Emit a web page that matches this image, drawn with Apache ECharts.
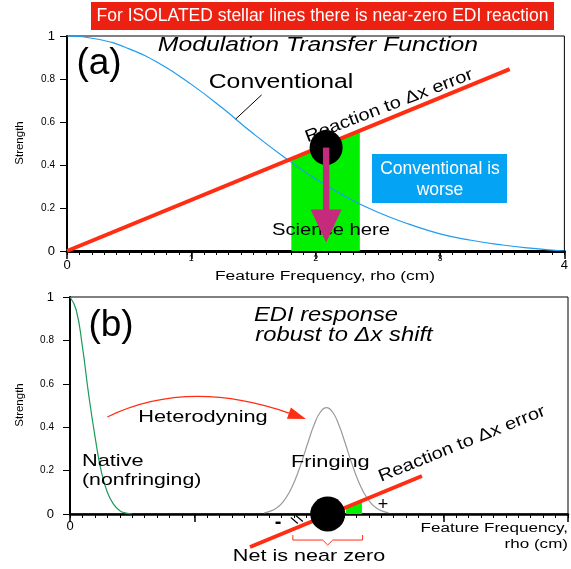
<!DOCTYPE html>
<html>
<head>
<meta charset="UTF-8">
<script src="https://cdn.jsdelivr.net/npm/echarts@6/dist/echarts.min.js"></script>
<style>
html,body{margin:0;padding:0;background:#fff;}
#main{width:571px;height:569px;}
</style>
</head>
<body>
<div id="main"></div>
<script>
/* ---- panel (a) : modulation transfer function ---- */
var freqA = [0, 0.25, 0.5, 0.75, 1, 1.25, 1.5, 1.75, 2, 2.25, 2.5, 2.75, 3, 3.25, 3.5, 3.75, 4];
var conventional = [1, 0.985, 0.94, 0.87, 0.775, 0.665, 0.545, 0.435, 0.335, 0.25, 0.18, 0.125, 0.08, 0.05, 0.028, 0.012, 0];
var reactionA = [[0, 0], [3.56, 0.846]];
var scienceBand = [[1.804, 0.429], [2.355, 0.56]];
var blobA = [2.084, 0.481];
var arrowTipA = [2.084, 0.04];
var calloutA = [[1.565, 0.726], [1.357, 0.614]];

/* ---- panel (b) : EDI response ---- */
var freqNative = [0, 0.05, 0.1, 0.15, 0.2, 0.25, 0.3, 0.35, 0.4, 0.45, 0.5];
var native = [1, 0.94, 0.77, 0.55, 0.36, 0.2, 0.1, 0.045, 0.015, 0.004, 0];
var freqFringe = [1.56, 1.61, 1.66, 1.71, 1.76, 1.81, 1.86, 1.91, 1.96, 2.01, 2.06, 2.11, 2.16, 2.21, 2.26, 2.31, 2.36, 2.41, 2.46, 2.51, 2.56];
var fringing = [0.005, 0.013, 0.028, 0.055, 0.098, 0.16, 0.239, 0.327, 0.41, 0.469, 0.49, 0.469, 0.41, 0.327, 0.239, 0.16, 0.098, 0.055, 0.028, 0.013, 0.005];
var reactionB = [[1.446, -0.152], [2.827, 0.175]];
var netBand = [[2.217, 0.031], [2.345, 0.061]];
var blobB = [2.07, 0];
var heteroArc = [[0.30, 0.447], [0.944, 0.627], [1.895, 0.438]];
var braceX = [1.79, 2.07, 2.35];
var braceY = [-0.097, -0.12, -0.143];
var hatchAt = [1.83, -0.03];

var FONT = '"Liberation Sans", Arial, sans-serif';

function zip(xs, ys) {
    var out = [];
    for (var i = 0; i < xs.length; i++) out.push([xs[i], ys[i]]);
    return out;
}

function yLabel(v) {
    if (v === 0 || v === 1) return '{big|' + v + '}';
    return '{small|' + (+v.toFixed(1)) + '}';
}
var labelRich = {
    big: {fontSize: 13, fontFamily: FONT, color: '#000'},
    small: {fontSize: 10, fontFamily: FONT, color: '#000'}
};

function txt(s, x, y, size, opts) {
    opts = opts || {};
    return {
        type: 'text', x: x, y: y, z: 5,
        rotation: opts.rot || 0,
        scaleX: opts.sx || 1,
        style: {
            text: s, fill: opts.color || '#000', fontSize: size, fontFamily: FONT,
            fontStyle: opts.italic ? 'italic' : 'normal',
            fontWeight: opts.bold ? 'bold' : 'normal',
            align: opts.align || 'center', verticalAlign: 'middle'
        }
    };
}

// small ticks every 0.1 on a second, label-less axis
function minorAxis(gi) {
    return {
        gridIndex: gi, type: 'value', min: 0, max: 4, interval: 0.1, position: 'bottom',
        axisLine: {show: false}, axisLabel: {show: false}, splitLine: {show: false},
        axisTick: {show: true, length: 4, lineStyle: {color: '#000', width: 1}}
    };
}

var chart = echarts.init(document.getElementById('main'));

var option = {
    animation: false,
    backgroundColor: '#fff',
    grid: [
        {left: 67, top: 36, width: 501, height: 215, show: true, borderColor: '#000', borderWidth: 1},
        {left: 70, top: 297, width: 498, height: 217, show: true, borderColor: '#000', borderWidth: 1}
    ],
    xAxis: [
        {
            gridIndex: 0, type: 'value', min: 0, max: 4, interval: 1,
            axisLine: {onZero: false, lineStyle: {color: '#000', width: 3}},
            axisTick: {length: 8, lineStyle: {color: '#000', width: 1.5}},
            splitLine: {show: false},
            axisLabel: {
                margin: 3, rich: {big: {fontSize: 13, fontFamily: FONT, color: '#000', padding: [5, 0, 0, 0]}, small: {fontSize: 9, fontFamily: FONT, color: '#000'}},
                formatter: function (v) { return (v === 0 || v === 4) ? '{big|' + v + '}' : '{small|' + v + '}'; }
            }
        },
        {
            gridIndex: 1, type: 'value', min: 0, max: 4, interval: 1,
            axisLine: {onZero: false, lineStyle: {color: '#000', width: 2.5}},
            axisTick: {length: 8, lineStyle: {color: '#000', width: 1.5}},
            splitLine: {show: false},
            axisLabel: {
                margin: 6, rich: labelRich,
                formatter: function (v) { return v === 0 ? '{big|0}' : ''; }
            }
        },
        minorAxis(0),
        minorAxis(1)
    ],
    yAxis: [
        {
            gridIndex: 0, type: 'value', min: 0, max: 1, interval: 0.2,
            axisLine: {show: true, onZero: false, lineStyle: {color: '#000', width: 2}},
            axisTick: {show: true, length: 7, lineStyle: {color: '#000', width: 1}},
            splitLine: {show: false},
            axisLabel: {margin: 12, rich: labelRich, formatter: yLabel}
        },
        {
            gridIndex: 1, type: 'value', min: 0, max: 1, interval: 0.2,
            axisLine: {show: true, onZero: false, lineStyle: {color: '#000', width: 2}},
            axisTick: {show: true, length: 7, lineStyle: {color: '#000', width: 1}},
            splitLine: {show: false},
            axisLabel: {margin: 16, rich: labelRich, formatter: yLabel}
        }
    ],
    series: [
        /* panel a */
        {
            type: 'line', xAxisIndex: 0, yAxisIndex: 0, z: 1,
            data: scienceBand, showSymbol: false,
            lineStyle: {width: 0}, areaStyle: {color: '#00f000', opacity: 1}
        },
        {
            type: 'line', xAxisIndex: 0, yAxisIndex: 0, z: 3,
            data: zip(freqA, conventional), smooth: true, showSymbol: false,
            lineStyle: {color: '#1e9cf0', width: 1.2}
        },
        {
            type: 'line', xAxisIndex: 0, yAxisIndex: 0, z: 4,
            data: reactionA, showSymbol: false,
            lineStyle: {color: '#ff2d12', width: 4}
        },
        {
            type: 'custom', xAxisIndex: 0, yAxisIndex: 0, z: 4, data: [0],
            renderItem: function (params, api) {
                var a = api.coord(calloutA[0]), b = api.coord(calloutA[1]);
                return {type: 'line', shape: {x1: a[0], y1: a[1], x2: b[0], y2: b[1]}, style: {stroke: '#000', lineWidth: 1}};
            }
        },
        {
            type: 'custom', xAxisIndex: 0, yAxisIndex: 0, z: 9, data: [0],
            renderItem: function (params, api) {
                var c = api.coord(blobA);
                return {type: 'ellipse', shape: {cx: c[0], cy: c[1], rx: 16.5, ry: 17.5}, style: {fill: '#000'}};
            }
        },
        {
            type: 'custom', xAxisIndex: 0, yAxisIndex: 0, z: 10, data: [0],
            renderItem: function (params, api) {
                var p0 = api.coord(blobA), p1 = api.coord(arrowTipA);
                var headLen = 33, headHalf = 15.5, half = 3.2;
                return {type: 'group', children: [
                    {type: 'rect', shape: {x: p0[0] - half, y: p0[1], width: half * 2, height: p1[1] - headLen - p0[1] + 1}, style: {fill: '#c62a7c'}},
                    {type: 'polygon', shape: {points: [[p1[0] - headHalf, p1[1] - headLen], [p1[0] + headHalf, p1[1] - headLen], [p1[0], p1[1]]]}, style: {fill: '#c62a7c'}}
                ]};
            }
        },
        /* panel b */
        {
            type: 'line', xAxisIndex: 1, yAxisIndex: 1, z: 3,
            data: zip(freqNative, native), smooth: true, showSymbol: false,
            lineStyle: {color: '#1b9a5a', width: 1.2}
        },
        {
            type: 'line', xAxisIndex: 1, yAxisIndex: 1, z: 3,
            data: zip(freqFringe, fringing), smooth: true, showSymbol: false,
            lineStyle: {color: '#9a9a9a', width: 1.2}
        },
        {
            type: 'line', xAxisIndex: 1, yAxisIndex: 1, z: 2,
            data: netBand, showSymbol: false,
            lineStyle: {width: 0}, areaStyle: {color: '#00f000', opacity: 1}
        },
        {
            type: 'line', xAxisIndex: 1, yAxisIndex: 1, z: 4, clip: false,
            data: reactionB, showSymbol: false,
            lineStyle: {color: '#ff2d12', width: 4}
        },
        {
            type: 'custom', xAxisIndex: 1, yAxisIndex: 1, z: 9, data: [0],
            renderItem: function (params, api) {
                var c = api.coord(blobB);
                return {type: 'circle', shape: {cx: c[0], cy: c[1], r: 17.5}, style: {fill: '#000'}};
            }
        },
        {
            type: 'custom', xAxisIndex: 1, yAxisIndex: 1, z: 6, data: [0],
            renderItem: function (params, api) {
                var s = api.coord(heteroArc[0]), c = api.coord(heteroArc[1]), e = api.coord(heteroArc[2]);
                var dx = e[0] - c[0], dy = e[1] - c[1], len = Math.sqrt(dx * dx + dy * dy);
                var ux = dx / len, uy = dy / len, hl = 18, hw = 6;
                var bx = e[0] - ux * hl, by = e[1] - uy * hl;
                return {type: 'group', children: [
                    {type: 'bezierCurve', shape: {x1: s[0], y1: s[1], cpx1: c[0], cpy1: c[1], x2: bx, y2: by}, style: {stroke: '#ff2d12', lineWidth: 1.2, fill: null}},
                    {type: 'polygon', shape: {points: [[e[0], e[1]], [bx - uy * hw, by + ux * hw], [bx + uy * hw, by - ux * hw]]}, style: {fill: '#ff2d12'}}
                ]};
            }
        },
        {
            type: 'custom', xAxisIndex: 1, yAxisIndex: 1, z: 6, data: [0],
            renderItem: function (params, api) {
                var l = api.coord([braceX[0], braceY[0]]), m = api.coord([braceX[1], braceY[1]]);
                var r = api.coord([braceX[2], braceY[0]]), t = api.coord([braceX[1], braceY[2]]);
                var h = api.coord(hatchAt);
                return {type: 'group', children: [
                    {type: 'polyline', shape: {points: [[l[0], l[1]], [l[0], m[1]], [t[0] - 5, m[1]], [t[0], t[1]], [t[0] + 5, m[1]], [r[0], m[1]], [r[0], r[1]]]}, style: {stroke: '#ff2d12', lineWidth: 1, fill: null}},
                    {type: 'line', shape: {x1: h[0] - 7, y1: h[1] - 3, x2: h[0], y2: h[1] + 3}, style: {stroke: '#000', lineWidth: 1.2}},
                    {type: 'line', shape: {x1: h[0] - 2, y1: h[1] - 5, x2: h[0] + 5, y2: h[1] + 1}, style: {stroke: '#000', lineWidth: 1.2}}
                ]};
            }
        }
    ],
    graphic: [
        {type: 'rect', z: 5, shape: {x: 91, y: 2, width: 463, height: 28}, style: {fill: '#ec2111'}},
        txt('For ISOLATED stellar lines there is near-zero EDI reaction', 322.5, 16, 17.5, {color: '#fff'}),
        txt('Modulation Transfer Function', 318, 46, 19.5, {italic: true, sx: 1.27}),
        txt('(a)', 99, 64, 37),
        txt('Conventional', 281, 83, 19.5, {sx: 1.27}),
        txt('Reaction to \u0394x error', 389, 106, 17, {sx: 1.18, rot: 21 * Math.PI / 180}),
        txt('Science here', 331, 230, 17, {sx: 1.19}),
        {type: 'rect', z: 5, shape: {x: 372, y: 154, width: 135, height: 49}, style: {fill: '#05a3f3'}},
        txt('Conventional is', 440, 169, 17.5, {color: '#fff'}),
        txt('worse', 440, 190, 17.5, {color: '#fff'}),
        txt('Strength', 20, 143, 11.5, {rot: Math.PI / 2}),
        txt('Feature Frequency, rho (cm)', 325, 277, 12, {sx: 1.45}),

        txt('(b)', 111, 326, 37),
        txt('EDI response', 326, 316, 19.5, {italic: true, sx: 1.22}),
        txt('robust to \u0394x shift', 344, 336, 19.5, {italic: true, sx: 1.22}),
        txt('Strength', 20, 405, 11.5, {rot: Math.PI / 2}),
        txt('Heterodyning', 203, 417, 17, {sx: 1.28}),
        txt('Native', 82, 461, 17, {align: 'left', sx: 1.28}),
        txt('(nonfringing)', 82, 480, 17, {align: 'left', sx: 1.25}),
        txt('Fringing', 291, 462, 17, {align: 'left', sx: 1.28}),
        txt('Reaction to \u0394x error', 462, 444, 17, {sx: 1.18, rot: 22 * Math.PI / 180}),
        txt('-', 278, 522, 20, {bold: true}),
        txt('+', 383, 505, 18),
        txt('Net is near zero', 309, 556, 17, {sx: 1.27}),
        txt('Feature Frequency,', 568, 529, 12, {align: 'right', sx: 1.42}),
        txt('rho (cm)', 568, 545, 12, {align: 'right', sx: 1.42})
    ]
};

chart.setOption(option);
</script>
</body>
</html>
